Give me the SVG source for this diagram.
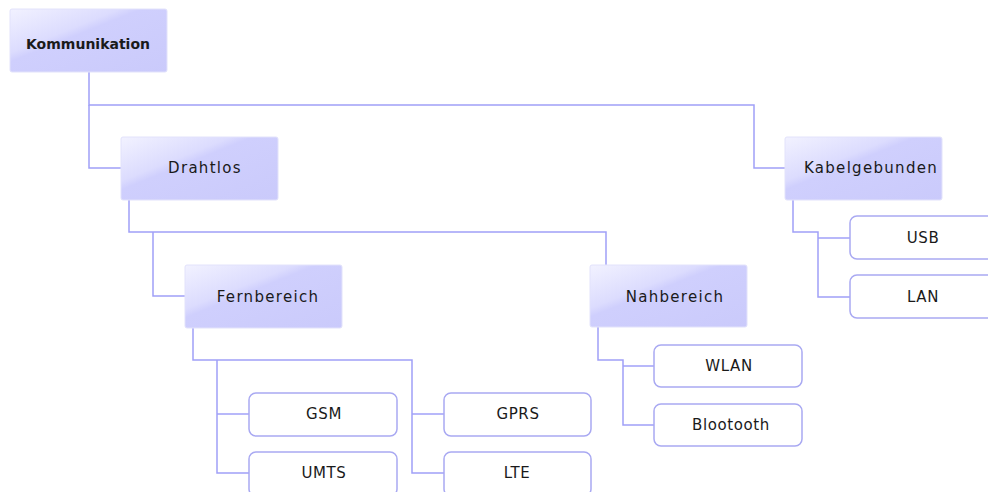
<svg xmlns="http://www.w3.org/2000/svg" width="988" height="492" viewBox="0 0 988 492">
  <defs>
    <linearGradient id="catGrad" x1="0" y1="0" x2="1" y2="1">
      <stop offset="0" stop-color="#f2f2ff"/>
      <stop offset="0.35" stop-color="#dcdcfe"/>
      <stop offset="0.42" stop-color="#cfcffd"/>
      <stop offset="1" stop-color="#cacafb"/>
    </linearGradient>
    <style>
      .cat { fill: url(#catGrad); stroke: #e2e2fb; stroke-width: 1; }
      .leaf { fill: #ffffff; stroke: #a9a9f2; stroke-width: 1.5; }
      .conn { fill: none; stroke: #a0a0f8; stroke-width: 1.5; }
      .t { font-family: "DejaVu Sans", "Liberation Sans", sans-serif; font-size: 15px; fill: #1a1a1a; text-anchor: middle; }
      .ct { letter-spacing: 1.3px; }
      .lt { letter-spacing: 0.6px; }
      .b { font-size: 14px; font-weight: bold; letter-spacing: 0; }
    </style>
  </defs>
  <rect width="988" height="492" fill="#ffffff"/>

  <g id="connectors">
    <path class="conn" d="M89 72 V105 H754 V168 H785"/>
    <path class="conn" d="M89 105 V168 H121"/>
    <path class="conn" d="M129 200 V232 H606 V265"/>
    <path class="conn" d="M153 232 V296 H185"/>
    <path class="conn" d="M193 328 V360 H412 V473 H444"/>
    <path class="conn" d="M412 414 H444"/>
    <path class="conn" d="M217 360 V473 H249"/>
    <path class="conn" d="M217 414 H249"/>
    <path class="conn" d="M598 327 V360 H623 V425 H654"/>
    <path class="conn" d="M623 366 H654"/>
    <path class="conn" d="M793 200 V232 H818 V297 H850"/>
    <path class="conn" d="M818 238 H850"/>
  </g>

  <g id="kommunikation">
    <rect class="cat" x="10" y="9" width="157" height="63" rx="2"/>
    <text class="t b" x="88" y="49">Kommunikation</text>
  </g>
  <g id="drahtlos">
    <rect class="cat" x="121" y="137" width="157" height="63" rx="2"/>
    <text class="t ct" x="205" y="173">Drahtlos</text>
  </g>
  <g id="kabelgebunden">
    <rect class="cat" x="785" y="137" width="157" height="63" rx="2"/>
    <text class="t ct" x="871" y="173">Kabelgebunden</text>
  </g>
  <g id="fernbereich">
    <rect class="cat" x="185" y="265" width="157" height="63" rx="2"/>
    <text class="t ct" x="268" y="302">Fernbereich</text>
  </g>
  <g id="nahbereich">
    <rect class="cat" x="590" y="265" width="157" height="62" rx="2"/>
    <text class="t ct" x="675" y="302">Nahbereich</text>
  </g>

  <g id="usb">
    <rect class="leaf" x="850" y="216" width="148" height="43" rx="7"/>
    <text class="t lt" x="923" y="243">USB</text>
  </g>
  <g id="lan">
    <rect class="leaf" x="850" y="275" width="148" height="43" rx="7"/>
    <text class="t lt" x="923" y="302">LAN</text>
  </g>
  <g id="wlan">
    <rect class="leaf" x="654" y="345" width="148" height="42" rx="7"/>
    <text class="t lt" x="729" y="371">WLAN</text>
  </g>
  <g id="blootooth">
    <rect class="leaf" x="654" y="404" width="148" height="42" rx="7"/>
    <text class="t lt" x="731" y="430">Blootooth</text>
  </g>
  <g id="gsm">
    <rect class="leaf" x="249" y="393" width="148" height="43" rx="7"/>
    <text class="t lt" x="324" y="419">GSM</text>
  </g>
  <g id="gprs">
    <rect class="leaf" x="444" y="393" width="147" height="43" rx="7"/>
    <text class="t lt" x="518" y="419">GPRS</text>
  </g>
  <g id="umts">
    <rect class="leaf" x="249" y="452" width="148" height="44" rx="7"/>
    <text class="t lt" x="324" y="478">UMTS</text>
  </g>
  <g id="lte">
    <rect class="leaf" x="444" y="452" width="147" height="44" rx="7"/>
    <text class="t lt" x="517" y="478">LTE</text>
  </g>
</svg>
